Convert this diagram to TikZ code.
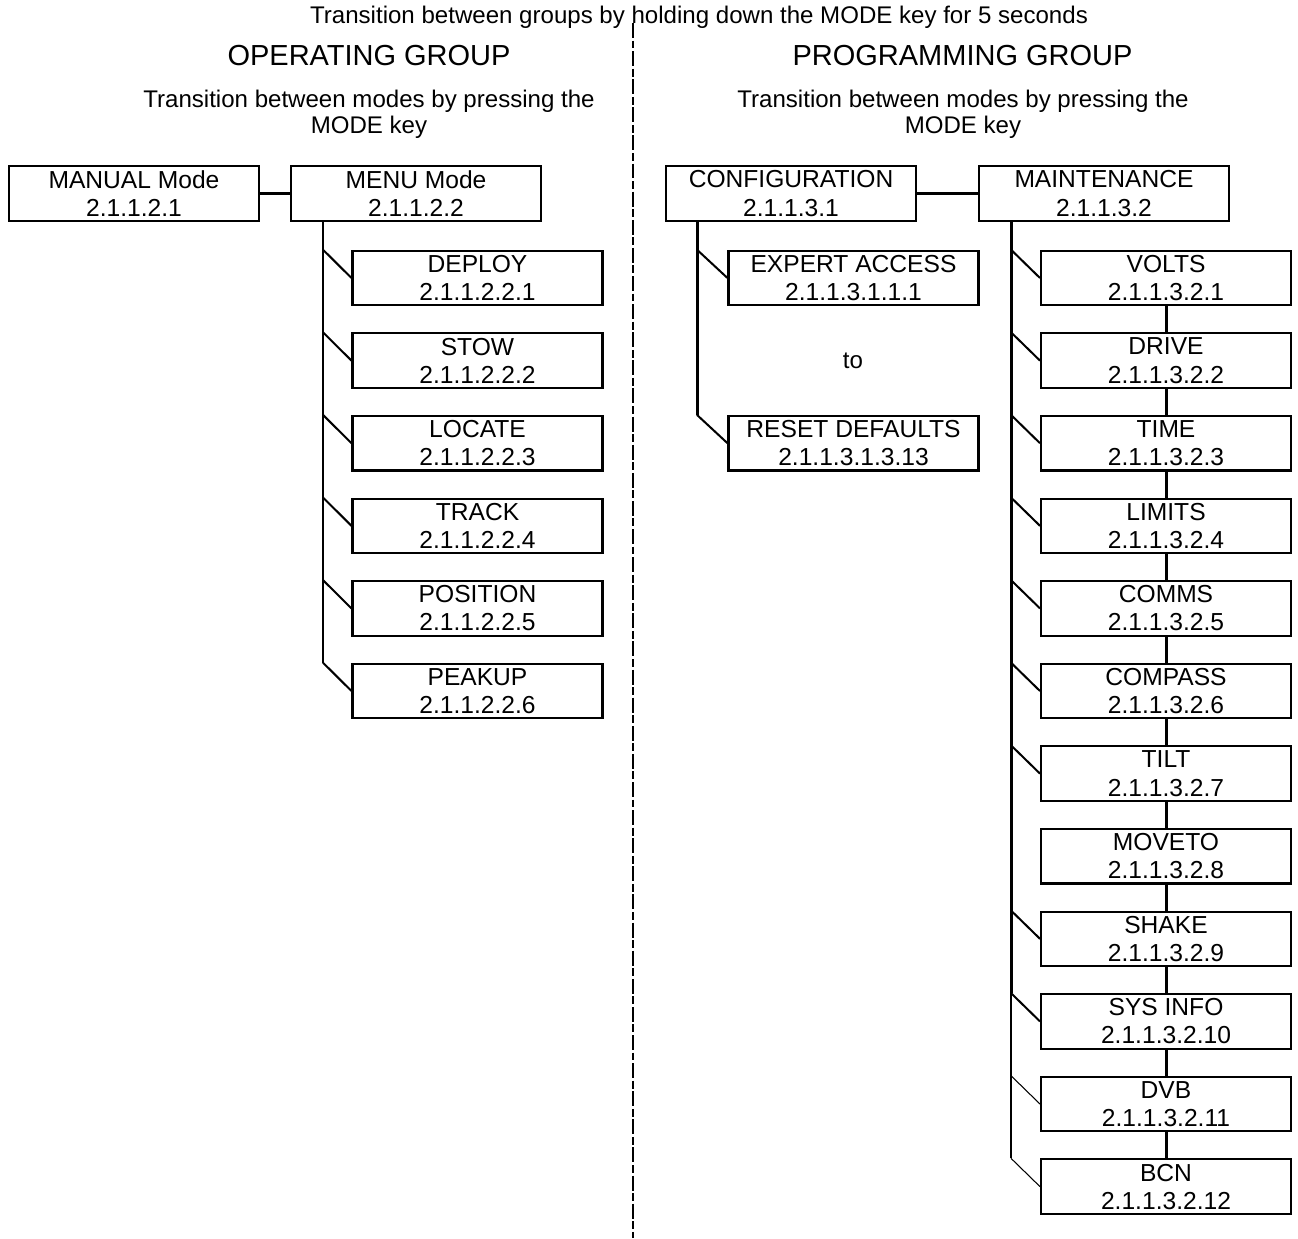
\documentclass[tikz,border=0pt]{standalone}
\usepackage{fontspec}
\setmainfont{Liberation Sans}
\usetikzlibrary{positioning}

\begin{document}
\begin{tikzpicture}[x=0.02cm,y=-0.02cm,
		mode/.style={draw,line width=1.2pt,minimum width=5cm,minimum height=1.09cm,inner sep=0pt,align=center,font=\fontsize{14}{16}\selectfont},
		note/.style={align=center,font=\fontsize{13.7}{14.8}\selectfont},
		grp/.style={font=\fontsize{16.5}{20}\selectfont},
		link/.style={line width=1.7pt},
		twig/.style={line width=1.15pt},
		fine/.style={line width=0.6pt}]
	\useasboundingbox (0,0) rectangle (1298,1238);

	% headings and divider
	\node[note] (hdr) at (699,17) {Transition between groups by holding down the MODE key for 5 seconds};
	\draw[line width=1.3pt,dash pattern=on 8.5pt off 1.5pt on 4.5pt off 1.5pt] (633,23) -- (633,1238);
	\node[grp] (opg) at (369,56) {OPERATING GROUP};
	\node[grp] (prg) at (962.5,56) {PROGRAMMING GROUP};
	\node[note] (opn) at (369,114) {Transition between modes by pressing the\\MODE key};
	\node[note] (prn) at (963,114) {Transition between modes by pressing the\\MODE key};

	% operating group
	\node[mode] (man) at (134,193.5) {MANUAL Mode\\2.1.1.2.1};
	\node[mode,right=0.6cm of man] (menu) {MENU Mode\\2.1.1.2.2};
	\draw[link] (man) -- (menu);
	\foreach \name [count=\i] in {DEPLOY,STOW,LOCATE,TRACK,POSITION,PEAKUP}
		\node[mode] (op\i) at (477.5,{278+82.6*(\i-1)}) {\name\\2.1.1.2.2.\i};
	\coordinate (optr) at (323,0);
	\draw[link] (menu.south -| optr) -- (op6.north -| optr);
	\foreach \i in {1,...,6}
		\draw[twig] (op\i.north -| optr) -- (op\i.west);

	% programming group
	\node[mode] (cfg) at (791,193.5) {CONFIGURATION\\2.1.1.3.1};
	\node[mode] (mnt) at (1104,193.5) {MAINTENANCE\\2.1.1.3.2};
	\draw[link] (cfg) -- (mnt);
	\node[mode] (xpa) at (853.5,278) {EXPERT ACCESS\\2.1.1.3.1.1.1};
	\node[note] (to) at (853,361) {to};
	\node[mode] (rst) at (853.5,443.2) {RESET DEFAULTS\\2.1.1.3.1.3.13};
	\coordinate (cftr) at (697,0);
	\draw[link] (cfg.south -| cftr) -- (rst.north -| cftr);
	\draw[twig] (xpa.north -| cftr) -- (xpa.west);
	\draw[twig] (rst.north -| cftr) -- (rst.west);

	\foreach \name [count=\i] in {VOLTS,DRIVE,TIME,LIMITS,COMMS,COMPASS,TILT,MOVETO,SHAKE,SYS INFO,DVB,BCN}
		\node[mode] (mt\i) at (1166,{278+82.6*(\i-1)}) {\name\\2.1.1.3.2.\i};
	\foreach \i [count=\j from 2] in {1,...,11}
		\draw[link] (mt\i) -- (mt\j);
	\coordinate (mttr) at (1011,0);
	\draw[link] (mnt.south -| mttr) -- (mt10.north -| mttr);
	\draw[twig] (mt10.north -| mttr) -- (mt12.north -| mttr);
	\foreach \i in {1,...,7,9,10}
		\draw[twig] (mt\i.north -| mttr) -- (mt\i.west);
	\foreach \i in {11,12}
		\draw[fine] (mt\i.north -| mttr) -- (mt\i.west);
\end{tikzpicture}
\end{document}
